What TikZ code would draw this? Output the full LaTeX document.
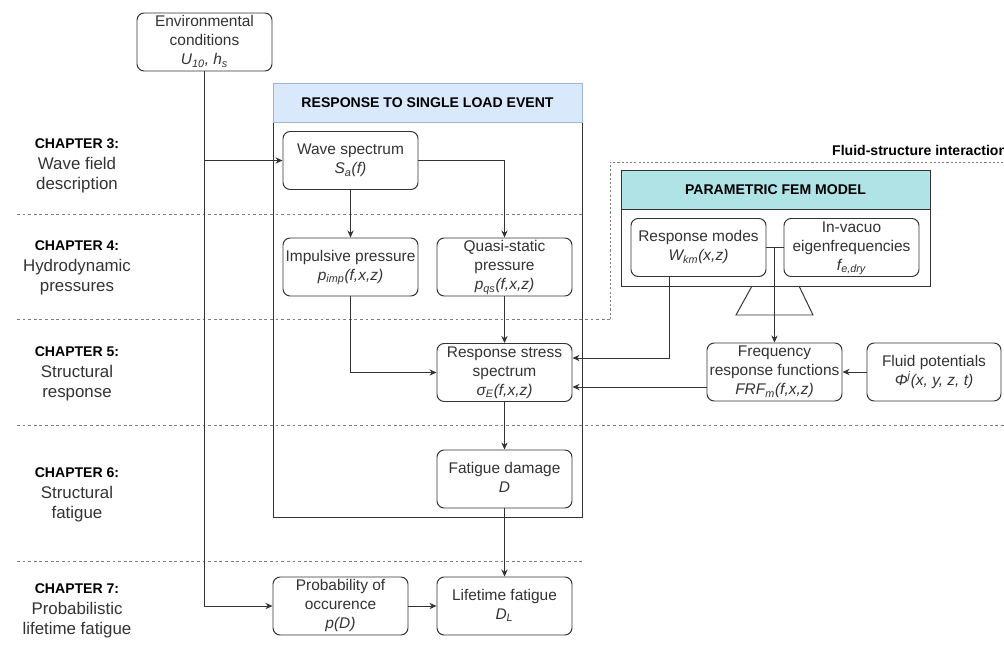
\documentclass[tikz,border=0pt]{standalone}
\usepackage{fontspec}
\setmainfont{Liberation Sans}
\usepackage{tikz}
\usetikzlibrary{arrows.meta,positioning,calc}
\definecolor{boxline}{HTML}{333333}
\definecolor{sepgray}{HTML}{7F7F7F}
\definecolor{headblue}{HTML}{DAE8FC}
\definecolor{headblueline}{HTML}{9DB6D8}
\definecolor{headteal}{HTML}{B0E3E6}
\newcommand{\chp}[1]{{\fontsize{10}{14.5}\selectfont\bfseries\color{black} CHAPTER #1:}}

\begin{document}
\begin{tikzpicture}[->,>={Stealth[length=5pt,width=4.5pt]},line width=0.7pt,
   draw=boxline,
   calcbox/.style={draw=boxline, rounded corners=1.8mm, fill=white, minimum width=3.375cm,
     minimum height=1.45cm, inner sep=0pt, text=boxline, font=\fontsize{11}{13.5}\selectfont},
   frame/.style={draw=boxline, -, inner sep=0pt, outer sep=0pt, minimum width=7.725cm},
   header/.style={frame, anchor=north, minimum height=0.975cm, font=\fontsize{10}{12}\selectfont\bfseries, text=black},
   chap/.style={text=boxline, font=\fontsize{12}{14.5}\selectfont},
   chapsep/.style={-, draw=sepgray, line width=0.6pt, dash pattern=on 2pt off 2pt}]
  \useasboundingbox (0,0) rectangle (25.1,-16.25);

  % chapter bands
  \draw[chapsep] (0.425,-5.35) -- (14.55,-5.35);
  \draw[chapsep] (0.425,-7.975) -- (15.25,-7.975);
  \draw[chapsep] (0.425,-10.625) -- (25.1,-10.625);
  \draw[chapsep] (0.425,-14.025) -- (14.55,-14.025);
  \draw[chapsep, dash pattern=on 1.5pt off 1.5pt] (15.25,-7.975) -- (15.25,-4.05) -- (25.4,-4.05);
  \node[anchor=west, font=\fontsize{10}{12}\selectfont\bfseries] (fsi) at (20.675,-3.75) {Fluid-structure interaction};

  \node[chap] (ch3) at (1.925,-4.125) {\begin{tabular}{@{}c@{}} \chp{3} \\ Wave field \\ description \end{tabular}};
  \node[chap] (ch4) at (1.925,-6.675) {\begin{tabular}{@{}c@{}} \chp{4} \\ Hydrodynamic \\ pressures \end{tabular}};
  \node[chap] (ch5) at (1.925,-9.325) {\begin{tabular}{@{}c@{}} \chp{5} \\ Structural \\ response \end{tabular}};
  \node[chap] (ch6) at (1.925,-12.35) {\begin{tabular}{@{}c@{}} \chp{6} \\ Structural \\ fatigue \end{tabular}};
  \node[chap] (ch7) at (1.925,-15.25) {\begin{tabular}{@{}c@{}} \chp{7} \\ Probabilistic \\ lifetime fatigue \end{tabular}};

  % containers
  \node[frame, minimum height=10.85cm] (single) at (10.6875,-7.5) {};
  \node[header, fill=headblue, draw=headblueline] (singlehead) at (single.north) {RESPONSE TO SINGLE LOAD EVENT};
  \node[frame, minimum height=2.9cm] (fem) at (19.3875,-5.7) {};
  \node[header, fill=headteal] (femhead) at (fem.north) {PARAMETRIC FEM MODEL};
  \draw[-] ($(fem.south)+(-0.5875,0)$) -- ($(fem.south)+(-0.9875,-0.725)$) -- ($(fem.south)+(0.9375,-0.725)$) -- ($(fem.south)+(0.5875,0)$);

  % blocks
  \node[calcbox] (env) at (5.1125,-1.05) {\begin{tabular}{@{}c@{}} Environmental \\ conditions \\ \textit{U\textsubscript{10}, h\textsubscript{s}} \end{tabular}};
  \node[calcbox] (wave) at (8.7625,-4.0125) {\begin{tabular}{@{}c@{}} Wave spectrum \\ \textit{S\textsubscript{a}(f)} \end{tabular}};
  \node[calcbox] (imp) at (8.7625,-6.675) {\begin{tabular}{@{}c@{}} Impulsive pressure \\ \textit{p\textsubscript{imp}(f,x,z)} \end{tabular}};
  \node[calcbox] (quasi) at (12.6125,-6.675) {\begin{tabular}{@{}c@{}} Quasi-static \\ pressure \\ \textit{p\textsubscript{qs}(f,x,z)} \end{tabular}};
  \node[calcbox] (stress) at (12.6125,-9.3125) {\begin{tabular}{@{}c@{}} Response stress \\ spectrum \\ \textit{σ\textsubscript{E}(f,x,z)} \end{tabular}};
  \node[calcbox] (fatigue) at (12.6125,-11.975) {\begin{tabular}{@{}c@{}} Fatigue damage \\ \textit{D} \end{tabular}};
  \node[calcbox] (prob) at (8.5125,-15.15) {\begin{tabular}{@{}c@{}} Probability of \\ occurence \\ \textit{p(D)} \end{tabular}};
  \node[calcbox] (life) at (12.6125,-15.15) {\begin{tabular}{@{}c@{}} Lifetime fatigue \\ \textit{D\textsubscript{L}} \end{tabular}};
  \node[calcbox] (modes) at (17.4625,-6.1875) {\begin{tabular}{@{}c@{}} Response modes \\ \textit{W\textsubscript{km}(x,z)} \end{tabular}};
  \node[calcbox] (invac) at (21.2875,-6.1875) {\begin{tabular}{@{}c@{}} In-vacuo \\ eigenfrequencies \\ \textit{f\textsubscript{e,dry}} \end{tabular}};
  \node[calcbox] (frf) at (19.3625,-9.3) {\begin{tabular}{@{}c@{}} Frequency \\ response functions \\ \textit{FRF\textsubscript{m}(f,x,z)} \end{tabular}};
  \node[calcbox, minimum width=3.35cm] (fluid) at (23.35,-9.3) {\begin{tabular}{@{}c@{}} Fluid potentials \\ \textit{Φ\textsuperscript{j}(x, y, z, t)} \end{tabular}};

  % flow
  \draw (env.south) |- (prob.west);
  \draw (env.south |- wave.west) -- (wave.west);
  \draw (wave.south) -- (imp.north);
  \draw (wave.east) -| (quasi.north);
  \draw (imp.south) |- (stress.west);
  \draw (quasi.south) -- (stress.north);
  \draw (stress.south) -- (fatigue.north);
  \draw (fatigue.south) -- (life.north);
  \draw (prob.east) -- (life.west);
  \draw[-] (modes.east) -- (invac.west);
  \draw (modes.east -| frf.north) -- (frf.north);
  \draw ([xshift=-0.7375cm]modes.south) |- ([yshift=0.3625cm]stress.east);
  \draw ([yshift=-0.375cm]frf.west) -- ([yshift=-0.375cm]frf.west -| stress.east);
  \draw (fluid.west) -- (frf.east);
\end{tikzpicture}
\end{document}
